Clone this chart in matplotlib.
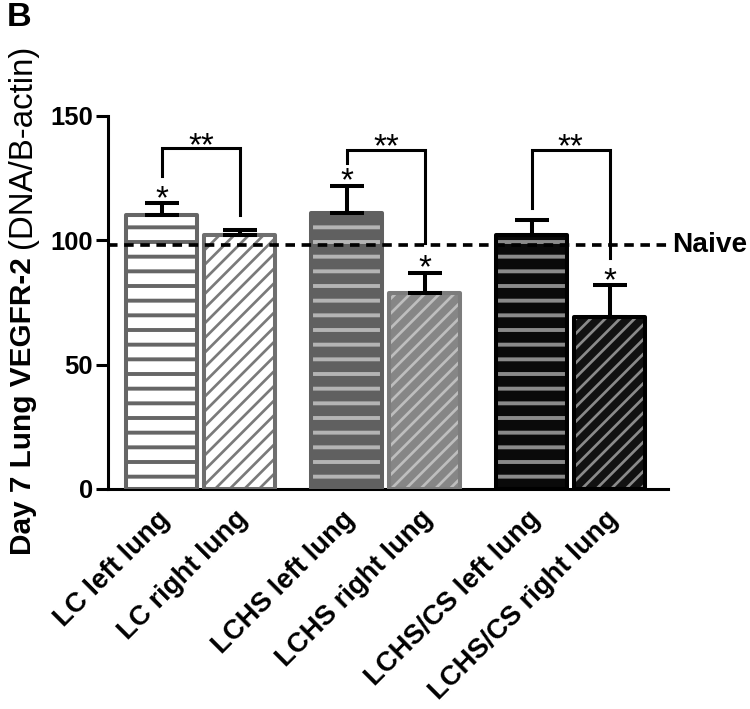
import numpy as np
import matplotlib
matplotlib.use('Agg')
import matplotlib.pyplot as plt

plt.rcParams['font.family'] = ['Liberation Sans', 'DejaVu Sans']

# data
labels = ['LC left lung', 'LC right lung', 'LCHS left lung', 'LCHS right lung',
          'LCHS/CS left lung', 'LCHS/CS right lung']
means = [110, 102, 111, 79, 102, 69]
sem = [5, 2, 11, 8, 6, 13]
naive = 98
star_bars = [0, 2, 3, 5]              # single * above these bars
brk_pairs = [(0, 1), (2, 3), (4, 5)]  # ** brackets
brk_top = [137, 136.5, 136.5]
brk_left = [126, 131, 113]
brk_right = [110, 99, 93]

fills = ['white', 'white', '#606060', '#868686', '#0a0a0a', '#111111']
hatch_cols = ['#666666', '#7a7a7a', '#b4b4b4', '#bebebe', '#8a8a8a', '#8a8a8a']
edges = ['#666666', '#6e6e6e', '#606060', '#7c7c7c', '#000000', '#000000']
hatches = ['-', '//', '-', '//', '-', '//']

dpi = 88
px = 72 / dpi  # one pixel in points
fig = plt.figure(figsize=(750 / dpi, 709 / dpi), dpi=dpi)
ax = fig.add_axes([0.144, 0.3103, 0.7467, 0.5261])

x = np.array([g * 2.37 + k for g in range(3) for k in range(2)])
w = 0.91

for i in range(6):
    hlw = 3.2 if hatches[i] == '-' else 2.2
    with plt.rc_context({'hatch.linewidth': hlw}):
        ax.bar(x[i], means[i], width=w, color=fills[i], hatch=hatches[i],
               edgecolor=hatch_cols[i], linewidth=0, zorder=2)
    ax.bar(x[i], means[i], width=w, fill=False, edgecolor=edges[i],
           linewidth=3.3, zorder=3, joinstyle='round')

ax.errorbar(x, means, yerr=[np.zeros(6), sem], fmt='none', ecolor='black',
            elinewidth=3.3, capsize=13.9, capthick=3.3, zorder=4)

# naive dashed line
ax.axhline(naive, color='black', lw=3.0, dashes=(2.6, 1.8), zorder=5)
ax.text(x[-1] + (672 - 610) / 78, naive, 'Naive', ha='left', va='center',
        fontsize=23, fontweight='bold', clip_on=False)

# significance stars
for i in star_bars:
    ax.annotate('*', xy=(x[i], means[i] + sem[i]), xytext=(0, -3.9),
                textcoords='offset points', ha='center', va='baseline',
                fontsize=27, zorder=6)

for (a, b), yt, yl, yr in zip(brk_pairs, brk_top, brk_left, brk_right):
    ax.plot([x[a], x[a], x[b], x[b]], [yl, yt, yt, yr], color='black',
            lw=2.5, zorder=6, clip_on=False, solid_joinstyle='miter')
    ax.annotate('**', xy=((x[a] + x[b]) / 2, yt), xytext=(0, -5.6),
                textcoords='offset points', ha='center', va='baseline',
                fontsize=27, annotation_clip=False)

ax.set_xlim(-0.692, 6.487)
ax.set_ylim(0, 150)
ax.set_yticks([0, 50, 100, 150])
ax.set_xticks(x)
ax.set_xticklabels([])
# rotated category labels, anchored by their upper-right end
for xi, lab in zip(x, labels):
    ax.annotate(lab, xy=(xi, 0), xycoords=('data', 'axes fraction'),
                xytext=(-5 * px, -17 * px), textcoords='offset points',
                rotation=45, ha='right', va='top', rotation_mode='anchor',
                fontsize=22.5, fontweight='bold', annotation_clip=False)
for t in ax.get_yticklabels():
    t.set_fontweight('bold')
ax.tick_params(axis='y', length=10, width=2.5, pad=2.5, labelsize=21)
ax.tick_params(axis='x', length=0)
for s in ['top', 'right']:
    ax.spines[s].set_visible(False)
for s in ['left', 'bottom']:
    ax.spines[s].set_linewidth(2.5)

# y label: bold part + normal part
fig.text(23 / 750, (709 - 555) / 709, 'Day 7 Lung VEGFR-2', rotation=90,
         ha='center', va='bottom', fontsize=24.3, fontweight='bold')
fig.text(23 / 750, (709 - 45) / 709, '(DNA/B-actin)', rotation=90,
         ha='center', va='top', fontsize=27)

fig.text(7 / 750, 1 - 2 / 709, 'B', ha='left', va='top', fontsize=28,
         fontweight='bold')

fig.savefig('out.png', dpi=dpi)
